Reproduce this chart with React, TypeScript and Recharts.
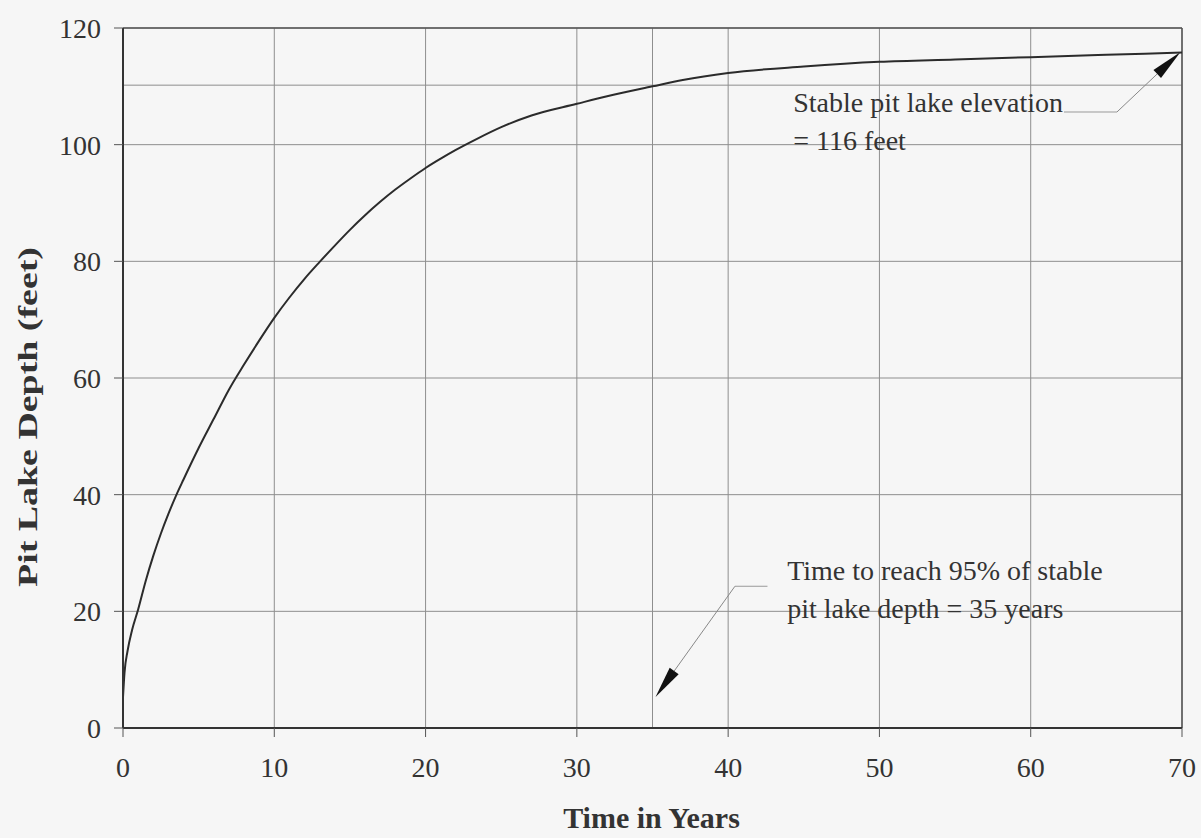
import React from "react"
import { LineChart, Line, XAxis, YAxis, CartesianGrid, ReferenceLine, ReferenceDot } from "recharts"

// years since start of filling
const years = [
  0, 0.1, 0.3, 0.6, 1, 1.5, 2, 2.5, 3, 3.5, 4, 5, 6, 7, 8, 9, 10, 11, 12, 13, 14, 15, 16, 17, 18, 19, 20,
  21, 22, 23.4, 25, 27, 30, 32, 35, 37, 40, 45, 50, 55, 60, 65, 70,
]
// pit lake depth (feet)
const depth = [
  5.3, 9.5, 13.2, 16.8, 20.3, 25.2, 29.5, 33.3, 36.7, 39.8, 42.6, 48, 53, 58, 62.3, 66.4, 70.3, 73.8, 77, 79.9, 82.7,
  85.4, 87.9, 90.2, 92.3, 94.2, 96, 97.6, 99.1, 101, 103, 105, 107, 108.3, 110, 111.1, 112.3, 113.4, 114.2, 114.6,
  115, 115.4, 115.8,
]

const xTicks = [0, 10, 20, 30, 40, 50, 60, 70]
const yTicks = [0, 20, 40, 60, 80, 100, 120]

// 95% of stable depth and the time it takes
const stableDepth = 116
const depth95 = 110.2
const years95 = 35

const data = years.map((t, i) => ({ t, d: depth[i] }))

const serif = "'Liberation Serif', 'Times New Roman', serif"
const ink = "#333"
const gridGray = "#8e8e8e"

const arrowShape = (p: any) => {
  const { x1, y1, x2, y2 } = p
  const dx = x2 - x1
  const dy = y2 - y1
  const len = Math.sqrt(dx * dx + dy * dy)
  const ux = dx / len
  const uy = dy / len
  const headLen = 32
  const half = 5.5
  const bx = x2 - ux * headLen
  const by = y2 - uy * headLen
  return (
    <g>
      <line x1={x1} y1={y1} x2={bx} y2={by} stroke="#888" strokeWidth={1} />
      <polygon
        points={`${x2},${y2} ${bx - uy * half},${by + ux * half} ${bx + uy * half},${by - ux * half}`}
        fill="#111"
      />
    </g>
  )
}

const noteLabel = (lines: string[]) => (props: any) => {
  const vb = props.viewBox
  return (
    <text x={vb.x + 1} y={vb.y + 1} fontFamily={serif} fontSize={28} fill={ink}>
      {lines.map((l, i) => (
        <tspan key={i} x={vb.x + 1} dy={i === 0 ? 0 : 38}>
          {l}
        </tspan>
      ))}
    </text>
  )
}

export default function App() {
  return (
    <div style={{ position: "absolute", left: 0, top: 0, width: 1201, height: 838, background: "#f6f6f6" }}>
      <LineChart width={1201} height={838} data={data} margin={{ top: 28, right: 19, left: 0, bottom: 0 }}>
        <CartesianGrid stroke={gridGray} strokeWidth={1} />
        <XAxis
          dataKey="t"
          type="number"
          domain={[0, 70]}
          ticks={xTicks}
          height={110}
          tickSize={9}
          tickMargin={20}
          axisLine={{ stroke: ink, strokeWidth: 2 }}
          tickLine={{ stroke: "#555" }}
          tick={{ fontSize: 28, fill: ink, fontFamily: serif }}
          label={{
            content: (p: any) => (
              <text
                x={p.viewBox.x + p.viewBox.width / 2 - 1}
                y={p.viewBox.y + 100}
                textAnchor="middle"
                fontFamily={serif}
                fontWeight="bold"
                fontSize={30}
                fill={ink}
              >
                Time in Years
              </text>
            ),
          }}
        />
        <YAxis
          type="number"
          domain={[0, 120]}
          ticks={yTicks}
          width={123}
          tickSize={9}
          tickMargin={13}
          axisLine={{ stroke: ink, strokeWidth: 2 }}
          tickLine={{ stroke: "#555" }}
          tick={{ fontSize: 28, fill: ink, fontFamily: serif }}
          label={{
            content: (p: any) => {
              const cx = p.viewBox.x + 27
              const cy = p.viewBox.y + p.viewBox.height / 2 + 39
              return (
                <text
                  x={cx}
                  y={cy}
                  transform={`rotate(-90 ${cx} ${cy})`}
                  textAnchor="middle"
                  dominantBaseline="central"
                  fontFamily={serif}
                  fontWeight="bold"
                  fontSize={28}
                  textLength={340}
                  lengthAdjust="spacingAndGlyphs"
                  fill={ink}
                >
                  Pit Lake Depth (feet)
                </text>
              )
            },
          }}
        />
        <ReferenceLine x={years95} stroke={gridGray} strokeWidth={1} />
        <ReferenceLine y={depth95} stroke={gridGray} strokeWidth={1} />
        <ReferenceLine y={120} stroke="#555" strokeWidth={1.5} />
        <ReferenceLine x={70} stroke="#555" strokeWidth={1.5} />

        {/* leader for stable elevation note */}
        <ReferenceLine segment={[{ x: 62.2, y: 105.6 }, { x: 65.7, y: 105.6 }]} stroke="#999" strokeWidth={1} />
        <ReferenceLine
          segment={[{ x: 65.7, y: 105.6 }, { x: 69.9, y: 115.9 }]}
          shape={arrowShape}
        />
        {/* leader for 95% note */}
        <ReferenceLine segment={[{ x: 42.6, y: 24.3 }, { x: 40.45, y: 24.3 }]} stroke="#999" strokeWidth={1} />
        <ReferenceLine
          segment={[{ x: 40.45, y: 24.3 }, { x: 35.2, y: 5.3 }]}
          shape={arrowShape}
        />

        <ReferenceDot
          x={44.3}
          y={105.6}
          r={1}
          fill="none"
          stroke="none"
          label={{ content: noteLabel(["Stable pit lake elevation", `= ${stableDepth} feet`]) }}
        />
        <ReferenceDot
          x={43.9}
          y={25.4}
          r={1}
          fill="none"
          stroke="none"
          label={{ content: noteLabel(["Time to reach 95% of stable", `pit lake depth = ${years95} years`]) }}
        />

        <Line
          type="monotone"
          dataKey="d"
          stroke="#2b2b2b"
          strokeWidth={2}
          dot={false}
          isAnimationActive={false}
        />
      </LineChart>
    </div>
  )
}
